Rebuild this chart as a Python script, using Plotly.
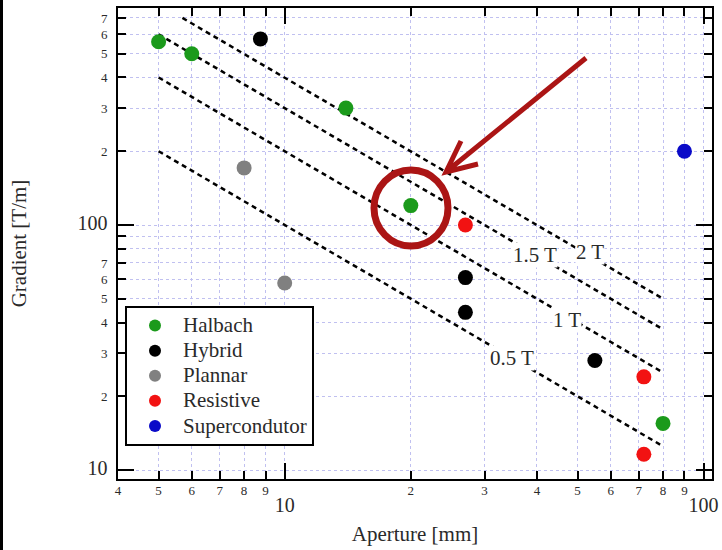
import math
import plotly.graph_objects as go

# ---------------- data ----------------
halbach_x = [5, 6, 14, 20, 80]
halbach_y = [560, 500, 300, 120, 15.5]
hybrid_x = [8.75, 27, 27, 55]
hybrid_y = [575, 61, 44, 28]
plannar_x = [8, 10]
plannar_y = [171, 58]
resistive_x = [27, 72, 72]
resistive_y = [100, 24, 11.6]
super_x = [90]
super_y = [200]

# constant-field reference lines (start/end points)
field_labels = ["0.5 T", "1 T", "1.5 T", "2 T"]
field_x = [[5, 80], [5, 80], [5, 80], [5.7, 80]]
field_y = [[200, 12.5], [400, 25], [600, 37.5], [700, 50]]

x_tickvals = [4, 5, 6, 7, 8, 9, 10, 20, 30, 40, 50, 60, 70, 80, 90, 100]
x_ticklabels = ["4", "5", "6", "7", "8", "9", "10", "2", "3", "4", "5", "6", "7", "8", "9", "100"]
y_tickvals = [10, 20, 30, 40, 50, 60, 70, 80, 90, 100, 200, 300, 400, 500, 600, 700]
y_ticklabels = ["10", "2", "3", "4", "5", "6", "7", "", "", "100", "2", "3", "4", "5", "6", "7"]
major_vals = [10, 100]

# ---------------- layout geometry ----------------
W, H = 722, 550
L, R, T, B = 118, 712, 8, 479
PW, PH = R - L, B - T


def px(x):
    return (x - L) / PW


def py(y):
    return (B - y) / PH


FONT = "Liberation Serif"
GRID = "#c0c0f0"
TXT = "#2a2a2a"

fig = go.Figure()

for k, (xs, ys) in enumerate(zip(field_x, field_y)):
    fig.add_trace(go.Scatter(x=xs, y=ys, mode="lines", showlegend=False,
                             line=dict(color="black", width=2.5, dash="5px,4px"),
                             hoverinfo="skip"))

series = [
    ("Halbach", halbach_x, halbach_y, "#1b9a1b"),
    ("Hybrid", hybrid_x, hybrid_y, "#000000"),
    ("Plannar", plannar_x, plannar_y, "#808080"),
    ("Resistive", resistive_x, resistive_y, "#f21212"),
    ("Supercondutor", super_x, super_y, "#0a0ac8"),
]
for name, xs, ys, c in series:
    fig.add_trace(go.Scatter(x=xs, y=ys, mode="markers",
                             name='<span style="font-size:21px">%s</span>' % name,
                             marker=dict(color=c, size=15, line=dict(width=0))))


def fmt(lbl, v, axis):
    if v in major_vals:
        if axis == "x":
            return '<br><span style="font-size:20px">%s</span>' % lbl
        return '<span style="font-size:20px">%s</span>' % lbl
    return lbl


axis_common = dict(
    type="log", showline=True, linecolor="black", linewidth=2, mirror="allticks",
    ticks="inside", ticklen=8, tickwidth=2, tickcolor="black",
    showgrid=True, gridcolor=GRID, griddash="dot", gridwidth=1,
    zeroline=False, tickfont=dict(family=FONT, size=13, color=TXT), tickangle=0,
    automargin=False,
    minor=dict(tickmode="array", tickvals=major_vals, ticks="inside",
               ticklen=16, tickwidth=2, tickcolor="black", showgrid=False),
)

fig.update_layout(
    width=W, height=H,
    margin=dict(l=L, r=W - R, t=T, b=H - B, pad=0, autoexpand=False),
    paper_bgcolor="white", plot_bgcolor="white",
    font=dict(family=FONT, color=TXT),
    xaxis=dict(axis_common, range=[math.log10(4), 2.02],
               tickmode="array", tickvals=x_tickvals,
               ticktext=[fmt(l, v, "x") for l, v in zip(x_ticklabels, x_tickvals)],
               ticklabelstandoff=-2,
               title=dict(text="Aperture [mm]", font=dict(family=FONT, size=21, color=TXT),
                          standoff=12)),
    yaxis=dict(axis_common, range=[0.9633, 2.8857],
               tickmode="array", tickvals=y_tickvals,
               ticktext=[fmt(l, v, "y") for l, v in zip(y_ticklabels, y_tickvals)],
               ticklabelstandoff=6,
               title=dict(text="Gradient [T/m]", font=dict(family=FONT, size=21, color=TXT),
                          standoff=45)),
    legend=dict(x=px(125), y=py(306), xanchor="left", yanchor="top",
                bgcolor="white", bordercolor="black", borderwidth=2,
                font=dict(family=FONT, size=17, color=TXT),
                itemsizing="constant", itemwidth=46),
    showlegend=True,
)

# field labels (white background hides the dashed line)
label_pos = {"1.5 T": (535, 255), "2 T": (590, 252), "1 T": (567, 320), "0.5 T": (512, 358)}
for lbl in field_labels:
    x0, y0 = label_pos[lbl]
    fig.add_annotation(x=px(x0), y=py(y0), xref="paper", yref="paper", text=lbl,
                       xanchor="center", yanchor="middle",
                       showarrow=False, bgcolor="white", borderpad=0,
                       font=dict(family=FONT, size=21, color=TXT))

RED = "#ab1515"
# highlight circle
cx, cy, rx, ry = 411, 208, 37, 38
fig.add_shape(type="circle", xref="paper", yref="paper",
              x0=px(cx - rx), x1=px(cx + rx), y0=py(cy + ry), y1=py(cy - ry),
              line=dict(color=RED, width=7))
# arrow
tip = (446, 172)
tail = (586, 58)
arm1 = (461, 141)
arm2 = (478, 164)
path = "M %f,%f L %f,%f M %f,%f L %f,%f L %f,%f" % (
    px(tail[0]), py(tail[1]), px(tip[0]), py(tip[1]),
    px(arm1[0]), py(arm1[1]), px(tip[0]), py(tip[1]), px(arm2[0]), py(arm2[1]))
fig.add_shape(type="path", xref="paper", yref="paper", path=path,
              line=dict(color=RED, width=5))

# left image border
fig.add_shape(type="rect", xref="paper", yref="paper",
              x0=px(0), x1=px(3), y0=py(550), y1=py(0),
              fillcolor="black", line=dict(width=0))

fig.write_html("out.html")
